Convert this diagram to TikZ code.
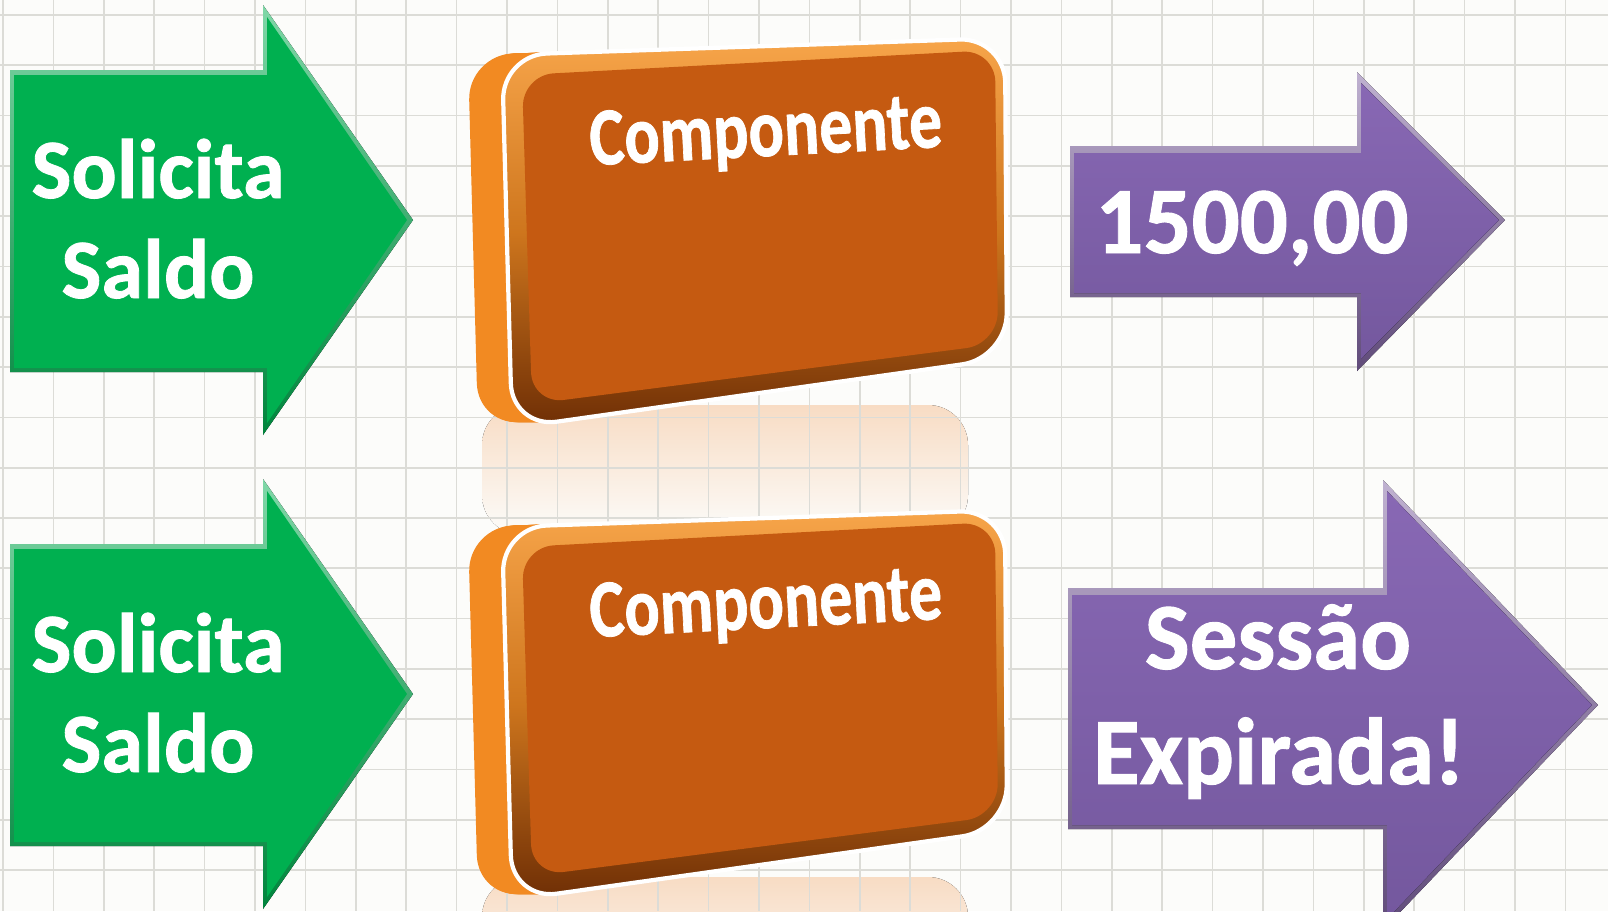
\documentclass[tikz,border=0pt]{standalone}
\usepackage{fontspec}
\setmainfont{Carlito}[BoldFeatures={FakeBold=1}]
\usepackage{tikz}

\definecolor{fundo}{RGB}{252,252,250}
\definecolor{grade}{RGB}{220,220,215}
\definecolor{verde}{HTML}{00B050}
\definecolor{roxo}{HTML}{8064A2}
\definecolor{roxotopo}{RGB}{136,104,180}
\definecolor{roxobase}{RGB}{116,88,158}
\definecolor{laranja}{HTML}{C55A11}
\definecolor{laranjaclaro}{HTML}{F7A54A}
\definecolor{laranjavivo}{HTML}{F28A22}
\definecolor{marrom}{HTML}{6E2E05}
\definecolor{pessego}{RGB}{248,220,196}

\newcommand{\setaverde}{(10,70) -- (263,70) -- (263,5) -- (413,220) -- (263,435) -- (263,372) -- (10,372) -- cycle}
\newcommand{\setaverdein}{(14,75) -- (267,75) -- (267,17) -- (407,220) -- (267,423) -- (267,368) -- (14,368) -- cycle}
\newcommand{\faceout}{(502,55) -- (1005,38) -- (1007,358) -- (512,428) -- cycle}
\newcommand{\facein}{(522,75) -- (995,50) -- (998,344) -- (532,404) -- cycle}

\begin{document}
\begin{tikzpicture}[x=0.01cm,y=-0.01cm,
    txtverde/.style={text=white,font=\fontsize{24}{28}\selectfont\bfseries,anchor=base,inner sep=0pt},
    txtroxo/.style={text=white,font=\fontsize{27}{32}\selectfont\bfseries,anchor=base,inner sep=0pt},
    txtcomp/.style={text=white,font=\fontsize{23.4}{28}\selectfont\bfseries,anchor=base,inner sep=0pt,rotate=3,xscale=0.8},
    chanfro/.style={top color=#1!50!white,bottom color=#1!75!black}]

\useasboundingbox (0,0) rectangle (1608,911);
\clip (0,0) rectangle (1608,911);
\fill[fundo] (0,0) rectangle (1608,911);

% reflexos
\foreach \dy in {0,472}
    \fill[top color=pessego,bottom color=fundo,rounded corners=0.4cm] (482,405+\dy) rectangle (968,535+\dy);

\foreach \i in {0,...,32}
    \draw[grade,line width=0.5pt] (3+50.4*\i,0) -- (3+50.4*\i,911);
\foreach \i in {0,...,18}
    \draw[grade,line width=0.5pt] (0,15+50.3*\i) -- (1608,15+50.3*\i);

% componentes
\foreach \dy in {0,472}
{
\begin{scope}[shift={(0,\dy)}]
    \foreach \s in {0,...,34}
        \fill[laranjavivo,rounded corners=0.45cm,shift={(-\s,0)}] \faceout;
    \fill[top color=laranjaclaro,bottom color=marrom,middle color=laranjavivo!85!black,rounded corners=0.45cm] \faceout;
    \draw[white,line width=1.2pt,rounded corners=0.45cm] \faceout;
    \fill[laranja,rounded corners=0.32cm] \facein;
    \node[txtcomp] (comp\dy) at (767,156) {Componente};
\end{scope}
}

% entradas
\foreach \dy in {0,474}
{
\begin{scope}[shift={(0,\dy)}]
    \fill[chanfro=verde] \setaverde;
    \fill[verde] \setaverdein;
    \node[txtverde] (sol\dy) at (158,198) {Solicita};
    \node[txtverde] (sal\dy) at (158,298) {Saldo};
\end{scope}
}

% respostas
\fill[chanfro=roxo] (1070,146) -- (1357,146) -- (1357,72) -- (1505,220) -- (1357,371) -- (1357,297) -- (1070,297) -- cycle;
\fill[top color=roxotopo,bottom color=roxobase] (1074,153) -- (1361,153) -- (1361,83) -- (1499,220) -- (1361,359) -- (1361,293) -- (1074,293) -- cycle;
\node[txtroxo] (valor) at (1252,253) {1500,00};

\fill[chanfro=roxo] (1068,588) -- (1383,588) -- (1383,480) -- (1598,705) -- (1383,930) -- (1383,829) -- (1068,829) -- cycle;
\fill[top color=roxotopo,bottom color=roxobase] (1072,595) -- (1387,595) -- (1387,491) -- (1592,705) -- (1387,919) -- (1387,825) -- (1072,825) -- cycle;
\node[txtroxo] (sessao) at (1278,669) {Sessão};
\node[txtroxo] (expirada) at (1279,784) {Expirada!};

\end{tikzpicture}
\end{document}
